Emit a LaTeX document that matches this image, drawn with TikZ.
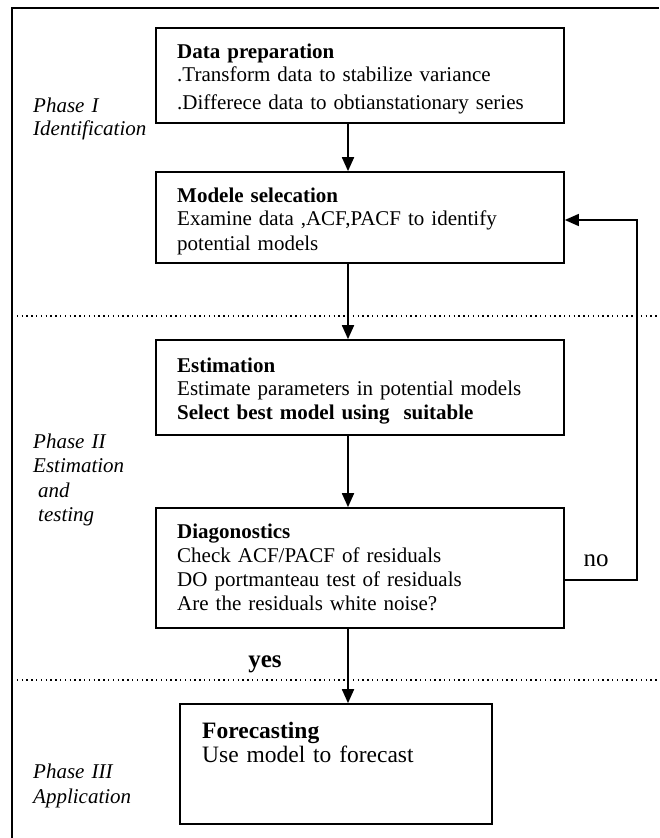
\documentclass[tikz,border=0pt]{standalone}
\usepackage{fontspec}
\setmainfont{Liberation Serif}
\usetikzlibrary{arrows.meta}
\begin{document}
\begin{tikzpicture}[x=1pt,y=-1pt,
  box/.style={draw, line width=1.7pt, inner sep=0pt},
  txt/.style={anchor=base west, inner sep=0pt, align=left, text width=385pt, font=\fontsize{21}{23.5}\selectfont},
  lbl/.style={anchor=base west, inner sep=0pt, align=left, text width=120pt, font=\fontsize{21}{24.5}\selectfont\itshape},
  arr/.style={line width=1.8pt, -{Triangle[length=14pt,width=12pt]}},
  fb/.style={line width=1.4pt, -{Triangle[length=14pt,width=12pt]}},
  sep/.style={line width=1.4pt, dash pattern=on 1.4pt off 3.4pt},
  frame/.style={line width=1.8pt}]
\useasboundingbox (0,0) rectangle (659,838);
% frame
\draw[frame] (12,838) -- (12,8) -- (659,8);
% phase separators
\draw[sep] (12,316) -- (659,316);
\draw[sep] (12,680) -- (659,680);
% boxes
\node[box, minimum width=408pt, minimum height=95pt] (b1) at (360,75.5) {};
\node[box, minimum width=408pt, minimum height=91pt] (b2) at (360,217.5) {};
\node[box, minimum width=408pt, minimum height=95pt] (b3) at (360,387.5) {};
\node[box, minimum width=408pt, minimum height=120pt] (b4) at (360,568) {};
\node[box, minimum width=312pt, minimum height=120pt] (b5) at (336,764) {};
% box texts
\node[txt] (t1) at (177,58) {\textbf{Data preparation}\\.Transform data to stabilize variance\\[4pt].Differece data to obtianstationary series};
\node[txt] (t2) at (177,202) {\textbf{Modele selecation}\\Examine data ,ACF,PACF to identify\\[1pt]potential models};
\node[txt] (t3) at (177,372) {\textbf{Estimation}\\Estimate parameters in potential models\\\textbf{Select best model using~ suitable}};
\node[txt, font=\fontsize{21}{24}\selectfont] (t4) at (177,538) {\textbf{Diagonostics}\\Check ACF/PACF of residuals\\DO portmanteau test of residuals\\Are the residuals white noise?};
\node[txt, text width=280pt, font=\fontsize{23.5}{24}\selectfont] (t5) at (202,738) {\textbf{Forecasting}\\Use model to forecast};
% phase labels
\node[lbl, font=\fontsize{21}{23}\selectfont\itshape] (p1) at (33,112) {Phase I\\Identification};
\node[lbl] (p2) at (33,448) {Phase II\\Estimation\\\hspace*{5pt}and\\\hspace*{5pt}testing};
\node[lbl, font=\fontsize{21}{25}\selectfont\itshape] (p3) at (33,778) {Phase III\\Application};
% yes / no
\node[anchor=base, inner sep=0pt, font=\fontsize{25}{25}\selectfont\bfseries] (yes) at (265,667) {yes};
\node[anchor=base, inner sep=0pt, font=\fontsize{25}{25}\selectfont] (no) at (596,566) {no};
% connectors
\draw[arr] ([xshift=-12pt]b1.south) -- ([xshift=-12pt]b2.north);
\draw[arr] ([xshift=-12pt]b2.south) -- ([xshift=-12pt]b3.north);
\draw[arr] ([xshift=-12pt]b3.south) -- ([xshift=-12pt]b4.north);
\draw[arr] ([xshift=-12pt]b4.south) -- ([xshift=-12pt]b4.south |- b5.north);
\draw[fb] ([yshift=-12pt]b4.east) -- ++(72,0) |- ([yshift=-2.5pt]b2.east);
\end{tikzpicture}
\end{document}
